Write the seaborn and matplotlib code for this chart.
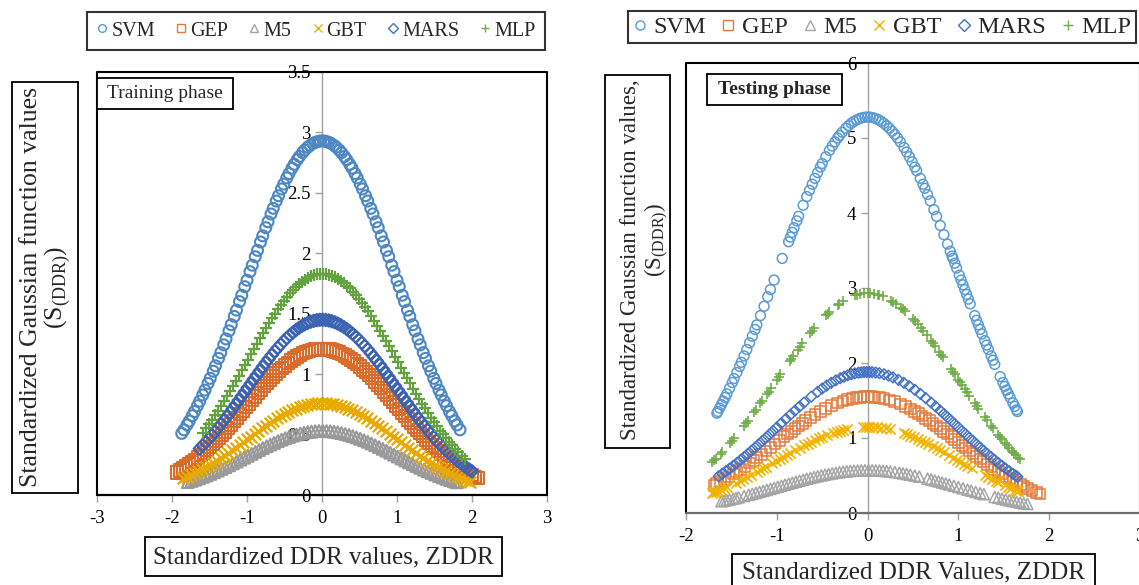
import warnings
import numpy as np
import pandas as pd
import matplotlib
matplotlib.use("Agg")
import matplotlib.pyplot as plt
from matplotlib.patches import Rectangle
from matplotlib.lines import Line2D
from matplotlib.ticker import FuncFormatter
import seaborn as sns

warnings.filterwarnings("ignore")

# ---------------------------------------------------------------- data
models = ["SVM", "GEP", "M5", "GBT", "MARS", "MLP"]

# peak of the standardized Gaussian function S(DDR) for each model
train_peak = [2.93, 1.21, 0.53, 0.76, 1.45, 1.83]
test_peak = [5.28, 1.55, 0.57, 1.15, 1.88, 2.93]

# standardized DDR values (ZDDR), training phase
train_z_svm = [-1.87, -1.84, -1.80, -1.77, -1.73, -1.70, -1.66, -1.63, -1.59, -1.56, -1.52, -1.49, -1.45, -1.42,
               -1.38, -1.35, -1.31, -1.28, -1.24, -1.21, -1.17, -1.14, -1.10, -1.07, -1.03, -1.00, -0.96, -0.93,
               -0.89, -0.86, -0.82, -0.79, -0.75, -0.72, -0.68, -0.65, -0.61, -0.58, -0.54, -0.51, -0.47, -0.44,
               -0.40, -0.37, -0.33, -0.30, -0.26, -0.23, -0.19, -0.16, -0.12, -0.09, -0.05, -0.02, 0.02, 0.05,
               0.09, 0.12, 0.16, 0.19, 0.23, 0.26, 0.30, 0.33, 0.37, 0.40, 0.44, 0.47, 0.51, 0.54, 0.58, 0.61,
               0.65, 0.68, 0.72, 0.75, 0.79, 0.82, 0.86, 0.89, 0.93, 0.96, 1.00, 1.03, 1.07, 1.10, 1.14, 1.17,
               1.21, 1.24, 1.28, 1.31, 1.35, 1.38, 1.42, 1.45, 1.49, 1.52, 1.56, 1.59, 1.63, 1.66, 1.70, 1.73,
               1.77, 1.80, 1.84]
train_z_gep = [-1.93, -1.89, -1.85, -1.81, -1.77, -1.73, -1.69, -1.65, -1.61, -1.57, -1.53, -1.49, -1.45, -1.41,
               -1.37, -1.33, -1.29, -1.25, -1.21, -1.17, -1.13, -1.09, -1.05, -1.01, -0.97, -0.93, -0.89, -0.85,
               -0.81, -0.77, -0.73, -0.69, -0.65, -0.61, -0.57, -0.53, -0.49, -0.45, -0.41, -0.37, -0.33, -0.29,
               -0.25, -0.21, -0.17, -0.13, -0.09, -0.05, -0.01, 0.03, 0.07, 0.11, 0.15, 0.19, 0.23, 0.27, 0.31,
               0.35, 0.39, 0.43, 0.47, 0.51, 0.55, 0.59, 0.63, 0.67, 0.71, 0.75, 0.79, 0.83, 0.87, 0.91, 0.95,
               0.99, 1.03, 1.07, 1.11, 1.15, 1.19, 1.23, 1.27, 1.31, 1.35, 1.39, 1.43, 1.47, 1.51, 1.55, 1.59,
               1.63, 1.67, 1.71, 1.75, 1.79, 1.83, 1.87, 1.91, 1.95, 2.00, 2.04, 2.08]
train_z_m5 = [-1.79, -1.74, -1.69, -1.64, -1.59, -1.54, -1.49, -1.44, -1.39, -1.34, -1.29, -1.24, -1.19, -1.14,
              -1.09, -1.04, -0.99, -0.94, -0.89, -0.84, -0.79, -0.74, -0.69, -0.64, -0.59, -0.54, -0.49, -0.44,
              -0.39, -0.34, -0.29, -0.24, -0.19, -0.14, -0.09, -0.04, 0.01, 0.06, 0.11, 0.16, 0.21, 0.26, 0.31,
              0.36, 0.41, 0.46, 0.51, 0.56, 0.61, 0.66, 0.71, 0.76, 0.81, 0.86, 0.91, 0.96, 1.01, 1.06, 1.11,
              1.16, 1.21, 1.26, 1.31, 1.36, 1.41, 1.46, 1.51, 1.56, 1.61, 1.66, 1.71, 1.76, 1.80]
train_z_gbt = [-1.85, -1.80, -1.75, -1.70, -1.65, -1.60, -1.55, -1.50, -1.45, -1.40, -1.35, -1.30, -1.25, -1.20,
               -1.15, -1.10, -1.05, -1.00, -0.95, -0.90, -0.85, -0.80, -0.75, -0.70, -0.65, -0.60, -0.55, -0.50,
               -0.45, -0.40, -0.35, -0.30, -0.25, -0.20, -0.15, -0.10, -0.05, 0.00, 0.05, 0.10, 0.15, 0.20, 0.25,
               0.30, 0.35, 0.40, 0.45, 0.50, 0.55, 0.60, 0.65, 0.70, 0.75, 0.80, 0.85, 0.90, 0.95, 1.00, 1.05,
               1.10, 1.15, 1.20, 1.25, 1.30, 1.35, 1.40, 1.45, 1.50, 1.55, 1.60, 1.65, 1.70, 1.75, 1.80, 1.85,
               1.90, 1.94, 1.97]
train_z_mars = [-1.63, -1.59, -1.55, -1.51, -1.47, -1.43, -1.39, -1.35, -1.31, -1.27, -1.23, -1.19, -1.15, -1.11,
                -1.07, -1.03, -0.99, -0.95, -0.91, -0.87, -0.83, -0.79, -0.75, -0.71, -0.67, -0.63, -0.59, -0.55,
                -0.51, -0.47, -0.43, -0.39, -0.35, -0.31, -0.27, -0.23, -0.19, -0.15, -0.11, -0.07, -0.03, 0.01,
                0.05, 0.09, 0.13, 0.17, 0.21, 0.25, 0.29, 0.33, 0.37, 0.41, 0.45, 0.49, 0.53, 0.57, 0.61, 0.65,
                0.69, 0.73, 0.77, 0.81, 0.85, 0.89, 0.93, 0.97, 1.01, 1.05, 1.09, 1.13, 1.17, 1.21, 1.25, 1.29,
                1.33, 1.37, 1.41, 1.45, 1.49, 1.53, 1.57, 1.61, 1.65, 1.69, 1.73, 1.77, 1.81, 1.85, 1.89, 1.93,
                1.97, 2.00]
train_z_mlp = [-1.59, -1.55, -1.51, -1.47, -1.43, -1.39, -1.35, -1.31, -1.27, -1.23, -1.19, -1.15, -1.11, -1.07,
               -1.03, -0.99, -0.95, -0.91, -0.87, -0.83, -0.79, -0.75, -0.71, -0.67, -0.63, -0.59, -0.55, -0.51,
               -0.47, -0.43, -0.39, -0.35, -0.31, -0.27, -0.23, -0.19, -0.15, -0.11, -0.07, -0.03, 0.01, 0.05,
               0.09, 0.13, 0.17, 0.21, 0.25, 0.29, 0.33, 0.37, 0.41, 0.45, 0.49, 0.53, 0.57, 0.61, 0.65, 0.69,
               0.73, 0.77, 0.81, 0.85, 0.89, 0.93, 0.97, 1.01, 1.05, 1.09, 1.13, 1.17, 1.21, 1.25, 1.29, 1.33,
               1.37, 1.41, 1.45, 1.49, 1.53, 1.57, 1.61, 1.65, 1.69, 1.73, 1.77, 1.81, 1.86, 1.90]

# standardized DDR values (ZDDR), testing phase
test_z_svm = [-1.66, -1.65, -1.63, -1.61, -1.59, -1.57, -1.55, -1.52, -1.49, -1.47, -1.44, -1.41, -1.39, -1.36,
              -1.33, -1.30, -1.27, -1.24, -1.22, -1.18, -1.14, -1.10, -1.07, -1.03, -0.94, -0.87, -0.85, -0.83,
              -0.81, -0.78, -0.76, -0.71, -0.67, -0.64, -0.61, -0.58, -0.55, -0.52, -0.50, -0.46, -0.42, -0.39,
              -0.36, -0.33, -0.31, -0.28, -0.24, -0.21, -0.18, -0.15, -0.12, -0.09, -0.06, -0.03, 0.00, 0.03,
              0.06, 0.09, 0.12, 0.15, 0.18, 0.21, 0.24, 0.27, 0.30, 0.33, 0.36, 0.40, 0.43, 0.46, 0.49, 0.52,
              0.54, 0.58, 0.61, 0.63, 0.66, 0.69, 0.73, 0.76, 0.80, 0.84, 0.88, 0.91, 0.93, 0.94, 0.96, 0.98,
              1.01, 1.03, 1.05, 1.07, 1.09, 1.11, 1.13, 1.18, 1.20, 1.22, 1.24, 1.26, 1.29, 1.31, 1.33, 1.36,
              1.38, 1.40, 1.46, 1.49, 1.51, 1.53, 1.55, 1.57, 1.60, 1.62, 1.64, 1.65]
test_z_gep = [-1.69, -1.66, -1.62, -1.58, -1.53, -1.48, -1.44, -1.40, -1.35, -1.30, -1.26, -1.22, -1.17, -1.12,
              -1.07, -1.02, -0.97, -0.92, -0.88, -0.84, -0.80, -0.76, -0.72, -0.68, -0.63, -0.58, -0.52, -0.46,
              -0.40, -0.33, -0.27, -0.22, -0.17, -0.12, -0.08, -0.04, 0.00, 0.04, 0.08, 0.13, 0.18, 0.24, 0.30,
              0.36, 0.42, 0.47, 0.52, 0.56, 0.60, 0.64, 0.68, 0.72, 0.76, 0.80, 0.84, 0.88, 0.92, 0.96, 1.00,
              1.04, 1.08, 1.12, 1.16, 1.20, 1.24, 1.28, 1.32, 1.36, 1.40, 1.44, 1.48, 1.52, 1.56, 1.60, 1.64,
              1.68, 1.72, 1.76, 1.81, 1.86, 1.90]
test_z_m5 = [-1.61, -1.58, -1.55, -1.52, -1.48, -1.45, -1.42, -1.36, -1.31, -1.27, -1.23, -1.19, -1.15, -1.11,
             -1.07, -1.03, -0.99, -0.95, -0.91, -0.87, -0.83, -0.79, -0.75, -0.71, -0.67, -0.63, -0.59, -0.55,
             -0.51, -0.47, -0.43, -0.39, -0.35, -0.31, -0.27, -0.23, -0.19, -0.15, -0.11, -0.07, -0.03, 0.01,
             0.05, 0.09, 0.13, 0.17, 0.21, 0.25, 0.30, 0.35, 0.39, 0.43, 0.47, 0.52, 0.57, 0.66, 0.70, 0.74,
             0.78, 0.82, 0.86, 0.90, 0.95, 1.00, 1.05, 1.10, 1.14, 1.19, 1.24, 1.28, 1.40, 1.44, 1.48, 1.52,
             1.56, 1.60, 1.64, 1.68, 1.72, 1.76]
test_z_gbt = [-1.71, -1.69, -1.67, -1.65, -1.62, -1.58, -1.55, -1.45, -1.41, -1.37, -1.33, -1.28, -1.22, -1.18,
              -1.15, -1.12, -1.05, -1.01, -0.97, -0.93, -0.89, -0.85, -0.80, -0.75, -0.70, -0.66, -0.62, -0.58,
              -0.54, -0.50, -0.45, -0.38, -0.34, -0.30, -0.27, -0.23, -0.05, -0.02, 0.02, 0.06, 0.10, 0.15,
              0.20, 0.25, 0.40, 0.43, 0.47, 0.51, 0.55, 0.59, 0.63, 0.67, 0.72, 0.76, 0.80, 0.84, 0.90, 0.94,
              0.98, 1.02, 1.06, 1.10, 1.15, 1.29, 1.33, 1.37, 1.41, 1.44, 1.51, 1.55, 1.58, 1.62, 1.64, 1.66]
test_z_mars = [-1.64, -1.60, -1.56, -1.52, -1.48, -1.44, -1.40, -1.36, -1.32, -1.28, -1.24, -1.20, -1.16, -1.12,
               -1.08, -1.04, -1.00, -0.95, -0.90, -0.85, -0.80, -0.75, -0.70, -0.62, -0.55, -0.50, -0.45, -0.40,
               -0.35, -0.30, -0.26, -0.22, -0.18, -0.14, -0.10, -0.07, -0.04, -0.01, 0.02, 0.05, 0.09, 0.13,
               0.18, 0.23, 0.28, 0.34, 0.40, 0.46, 0.52, 0.58, 0.64, 0.70, 0.75, 0.80, 0.84, 0.88, 0.92, 0.96,
               1.00, 1.04, 1.08, 1.12, 1.16, 1.20, 1.24, 1.28, 1.32, 1.36, 1.40, 1.44, 1.48, 1.52, 1.56, 1.60,
               1.63, 1.65]
test_z_mlp = [-1.71, -1.69, -1.67, -1.62, -1.60, -1.51, -1.49, -1.47, -1.36, -1.34, -1.32, -1.25, -1.23, -1.18,
              -1.16, -1.11, -1.09, -1.06, -1.00, -0.98, -0.96, -0.86, -0.84, -0.82, -0.77, -0.75, -0.72, -0.63,
              -0.61, -0.59, -0.46, -0.44, -0.42, -0.33, -0.31, -0.27, -0.14, -0.12, -0.08, -0.04, 0.00, 0.03,
              0.07, 0.11, 0.13, 0.17, 0.26, 0.28, 0.31, 0.37, 0.39, 0.41, 0.50, 0.52, 0.55, 0.59, 0.61, 0.65,
              0.70, 0.72, 0.74, 0.79, 0.81, 0.83, 0.92, 0.94, 0.96, 1.00, 1.02, 1.04, 1.07, 1.09, 1.12, 1.18,
              1.20, 1.22, 1.29, 1.31, 1.36, 1.38, 1.44, 1.46, 1.48, 1.51, 1.53, 1.56, 1.59, 1.61, 1.63, 1.66,
              1.68]

train_z = [train_z_svm, train_z_gep, train_z_m5, train_z_gbt, train_z_mars, train_z_mlp]
test_z = [test_z_svm, test_z_gep, test_z_m5, test_z_gbt, test_z_mars, test_z_mlp]

x_ticks_train = [-3, -2, -1, 0, 1, 2, 3]
y_ticks_train = [0, 0.5, 1, 1.5, 2, 2.5, 3, 3.5]
x_ticks_test = [-2, -1, 0, 1, 2, 3]
y_ticks_test = [0, 1, 2, 3, 4, 5, 6]


def gaussian_frame(z_lists, peaks):
    """Long table of S(DDR) = peak * exp(-ZDDR^2 / 2) for every model."""
    frames = []
    for name, z, peak in zip(models, z_lists, peaks):
        z = np.asarray(z, dtype=float)
        frames.append(pd.DataFrame({"model": name, "z": z, "s": peak * np.exp(-z ** 2 / 2.0)}))
    return pd.concat(frames, ignore_index=True)


train_df = gaussian_frame(train_z, train_peak)
test_df = gaussian_frame(test_z, test_peak)

# ---------------------------------------------------------------- style
sns.set_theme(style="white")
plt.rcParams["font.family"] = ["Liberation Serif", "DejaVu Serif"]
plt.rcParams["mathtext.fontset"] = "custom"
plt.rcParams["mathtext.rm"] = "Liberation Serif"
plt.rcParams["axes.unicode_minus"] = False

markers = {"SVM": "o", "GEP": "s", "M5": "^", "GBT": "x", "MARS": "D", "MLP": "+"}
train_sizes = {"SVM": 62, "GEP": 80, "M5": 72, "GBT": 70, "MARS": 40, "MLP": 78}
test_sizes = {"SVM": 50, "GEP": 60, "M5": 64, "GBT": 54, "MARS": 30, "MLP": 60}
hollow = {"SVM", "GEP", "M5", "MARS"}
train_colors = {"SVM": "#4C87C3", "GEP": "#D96B2B", "M5": "#999999",
                "GBT": "#E8AA00", "MARS": "#3B63B2", "MLP": "#63A23E"}
test_colors = {"SVM": "#5B9BD5", "GEP": "#E4793A", "M5": "#A5A5A5",
               "GBT": "#F2B300", "MARS": "#4472C4", "MLP": "#70AD47"}

W, H = 1139, 585
fig = plt.figure(figsize=(W / 100, H / 100), dpi=100)


def px_rect(x0, y0, x1, y1):
    return [x0 / W, 1 - y1 / H, (x1 - x0) / W, (y1 - y0) / H]


def fx(x):
    return x / W


def fy(y):
    return 1 - y / H


def draw_points(ax, df, colors, sizes, lw):
    for name in models:
        sub = df[df["model"] == name]
        c = colors[name]
        if name in hollow:
            sns.scatterplot(data=sub, x="z", y="s", ax=ax, marker=markers[name], s=sizes[name],
                            color=c, facecolor="none", edgecolor=c, linewidth=lw, legend=False, zorder=3)
        else:
            sns.scatterplot(data=sub, x="z", y="s", ax=ax, marker=markers[name], s=sizes[name],
                            color=c, linewidth=lw + 0.1, legend=False, zorder=3)


def style_axes(ax, xlim, ylim, xticks, yticks, bottom_color):
    ax.set_xlim(*xlim)
    ax.set_ylim(*ylim)
    ax.set_xticks(xticks)
    ax.set_yticks(yticks)
    ax.yaxis.set_major_formatter(FuncFormatter(lambda v, p: f"{v:g}"))
    ax.xaxis.set_major_formatter(FuncFormatter(lambda v, p: f"{v:g}"))
    ax.set_xlabel("")
    ax.set_ylabel("")
    ax.grid(False)
    for side in ("top", "right", "bottom"):
        ax.spines[side].set_visible(False)
    ax.spines["left"].set_position(("data", 0))
    ax.spines["left"].set_color("#a0a0a0")
    ax.spines["left"].set_linewidth(1.0)
    ax.spines["left"].set_zorder(1)
    ax.tick_params(axis="both", which="major", bottom=True, left=True, direction="out",
                   length=5, width=1, color="#a0a0a0", labelsize=13.5, labelcolor="black", pad=3)
    ax.tick_params(axis="x", pad=6)
    # plot-area frame
    ax.add_line(Line2D([0, 0, 1, 1], [0, 1, 1, 0], transform=ax.transAxes, color="black",
                       lw=1.5, clip_on=False, zorder=5))
    ax.add_line(Line2D([0, 1], [0, 0], transform=ax.transAxes, color=bottom_color,
                       lw=1.6, clip_on=False, zorder=5))


def boxed_text(x0, y0, x1, y1, lw=1.3):
    fig.add_artist(Rectangle((fx(x0), fy(y1)), (x1 - x0) / W, (y1 - y0) / H,
                             transform=fig.transFigure, fill=True, fc="white",
                             ec="black", lw=lw, zorder=6))


# ---------------------------------------------------------------- training panel
ax1 = fig.add_axes(px_rect(97, 72, 547, 495))
draw_points(ax1, train_df, train_colors, train_sizes, 1.5)
style_axes(ax1, (-3, 3), (0, 3.5), x_ticks_train, y_ticks_train, "black")

# ---------------------------------------------------------------- testing panel
ax2 = fig.add_axes(px_rect(686, 63, 1140, 513))
draw_points(ax2, test_df, test_colors, test_sizes, 1.1)
style_axes(ax2, (-2, 3), (0, 6), x_ticks_test, y_ticks_test, "#6e6e6e")

# ---------------------------------------------------------------- panel tags
boxed_text(97, 78, 233, 109)
fig.text(fx(165), fy(94), "Training phase", ha="center", va="center", fontsize=14, zorder=7)
boxed_text(707, 74, 842, 105)
fig.text(fx(774.5), fy(90), "Testing phase", ha="center", va="center", fontsize=14,
         fontweight="bold", zorder=7)

# ---------------------------------------------------------------- axis titles
boxed_text(145, 537, 502, 576)
fig.text(fx(323), fy(557), "Standardized DDR values, ZDDR", ha="center", va="center",
         fontsize=18, zorder=7)
boxed_text(732, 554, 1095, 600)
fig.text(fx(913), fy(572), "Standardized DDR Values, ZDDR", ha="center", va="center",
         fontsize=18, zorder=7)

boxed_text(12, 82, 78, 493)
fig.text(fx(31), fy(287), "Standardized Gaussian function values", ha="center", va="center",
         rotation=90, fontsize=18.5, zorder=7)
fig.text(fx(58), fy(287), r"(S$_{\mathrm{(DDR)}}$)", ha="center", va="center",
         rotation=90, fontsize=18.5, zorder=7)

boxed_text(605, 75, 670, 448)
fig.text(fx(630), fy(260), "Standardized Gaussian function values,", ha="center", va="center",
         rotation=90, fontsize=16.5, zorder=7)
fig.text(fx(657), fy(240), r"(S$_{\mathrm{(DDR)}}$)", ha="center", va="center",
         rotation=90, fontsize=16.5, zorder=7)

# ---------------------------------------------------------------- legends


def legend_handles(colors, ms):
    hs = []
    for name in models:
        c = colors[name]
        if name in hollow:
            hs.append(Line2D([], [], linestyle="none", marker=markers[name], markersize=ms,
                             markerfacecolor="none", markeredgecolor=c, markeredgewidth=1.0, label=name))
        else:
            hs.append(Line2D([], [], linestyle="none", marker=markers[name], markersize=ms,
                             color=c, markeredgewidth=1.0, label=name))
    return hs


leg1 = fig.legend(handles=legend_handles(test_colors, 5.5), loc="center", ncol=6,
                  bbox_to_anchor=(fx(316), fy(31)), fontsize=14.5, frameon=True, fancybox=False,
                  handlelength=0.6, handletextpad=0.15, columnspacing=1.0, borderpad=0.45)
leg1.get_frame().set_edgecolor("black")
leg1.get_frame().set_linewidth(1.5)

leg2 = fig.legend(handles=legend_handles(test_colors, 6.5), loc="center", ncol=6,
                  bbox_to_anchor=(fx(882), fy(27)), fontsize=17.5, frameon=True, fancybox=False,
                  handlelength=0.6, handletextpad=0.25, columnspacing=0.62, borderpad=0.2)
leg2.get_frame().set_edgecolor("black")
leg2.get_frame().set_linewidth(1.5)

fig.savefig("out.png", dpi=100)
